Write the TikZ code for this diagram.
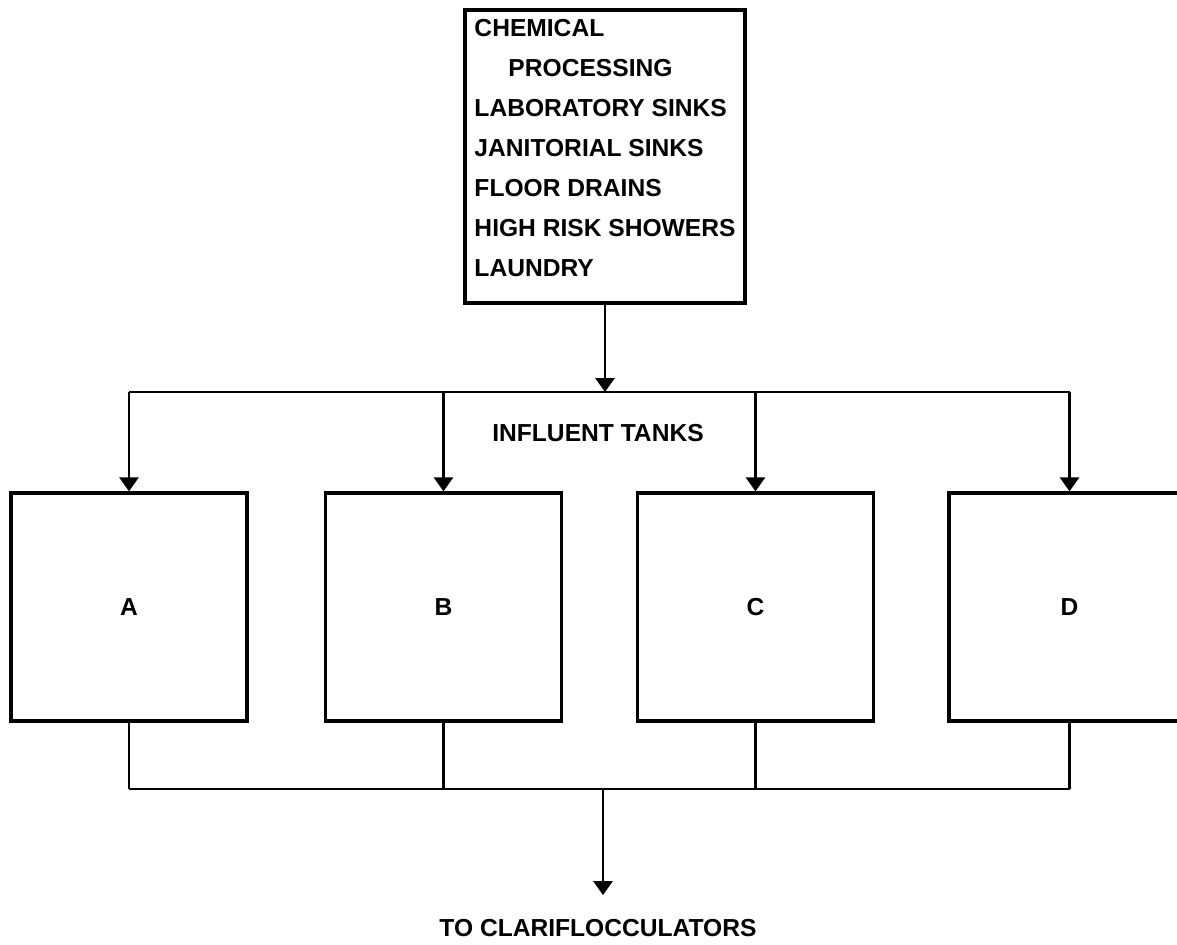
\documentclass[tikz,border=0pt]{standalone}
\usepackage{fontspec}
\setmainfont{Liberation Sans}
\usetikzlibrary{arrows.meta, positioning}

\begin{document}
\begin{tikzpicture}[
    x=0.02cm, y=-0.02cm,
    every node/.style={font=\fontsize{14}{22.8}\selectfont\bfseries},
    source/.style={
        rectangle,
        draw,
        line width=1.9pt,
        minimum width=5.6cm,
        minimum height=5.86cm,
        text depth=0.34cm,
        inner sep=0pt,
        align=left
    },
    tank/.style={
        rectangle,
        draw,
        line width=1.9pt,
        minimum width=4.72cm,
        minimum height=4.56cm,
        inner sep=0pt
    },
    pipe/.style={line width=1.6pt},
    arrow/.style={line width=1.6pt, -{Triangle[length=0.28cm, width=0.38cm]}}
]

\useasboundingbox (0,0) rectangle (1177,944);

\node[source] (drains) at (605,156.5) {CHEMICAL\\\hspace*{0.68cm}PROCESSING\\LABORATORY SINKS\\JANITORIAL SINKS\\FLOOR DRAINS\\HIGH RISK SHOWERS\\LAUNDRY};

\node[tank] (a) at (129,607) {A};
\node[tank] (b) at (443.5,607) {B};
\node[tank] (c) at (755.5,607) {C};
\node[tank, minimum width=4.82cm] (d) at (1069.5,607) {D};

\node (influent) at (598,433) {INFLUENT TANKS};
\node (clarif) at (598,928) {TO CLARIFLOCCULATORS};

\coordinate (split) at (605,392);
\coordinate (merge) at (603,789);

% feed to the tanks
\draw[arrow] (drains.south) -- (split);
\draw[pipe] (split -| a) -- (split -| d);
\foreach \t in {a,b,c,d}
    \draw[arrow] (split -| \t) -- (\t.north);

% outflow
\foreach \t in {a,b,c,d}
    \draw[pipe] (\t.south) -- (merge -| \t);
\draw[pipe] (merge -| a) -- (merge -| d);
\draw[arrow, shorten >=0.36cm] (merge) -- (merge |- clarif.north);

\end{tikzpicture}
\end{document}
